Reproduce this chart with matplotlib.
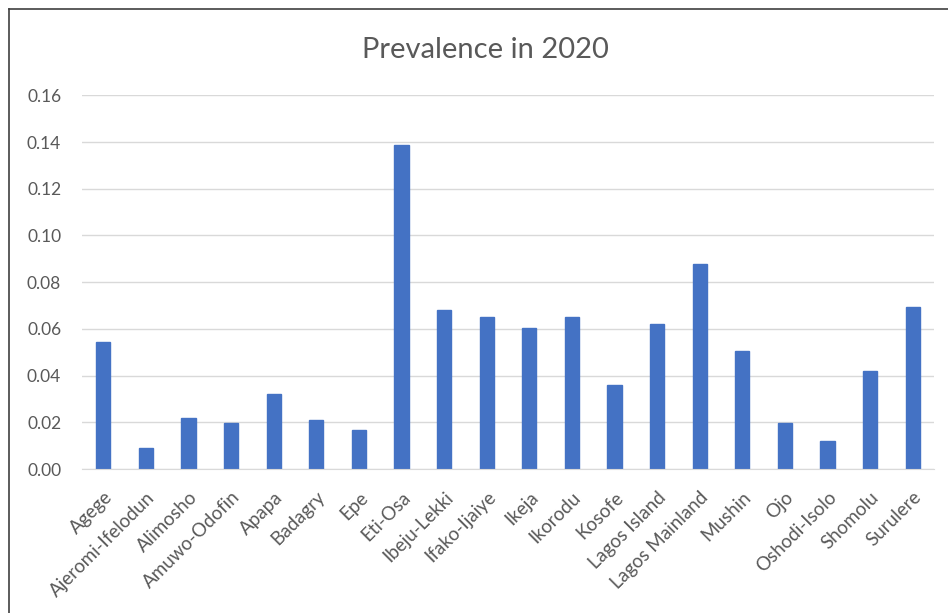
import matplotlib.pyplot as plt
from matplotlib.lines import Line2D

areas = ['Agege', 'Ajeromi-Ifelodun', 'Alimosho', 'Amuwo-Odofin', 'Apapa', 'Badagry',
         'Epe', 'Eti-Osa', 'Ibeju-Lekki', 'Ifako-Ijaiye', 'Ikeja', 'Ikorodu', 'Kosofe',
         'Lagos Island', 'Lagos Mainland', 'Mushin', 'Ojo', 'Oshodi-Isolo', 'Shomolu',
         'Surulere']
prevalence = [0.0542, 0.0089, 0.0217, 0.0198, 0.0321, 0.0208, 0.0166, 0.1388, 0.0681,
              0.0652, 0.0605, 0.0652, 0.0360, 0.0619, 0.0879, 0.0505, 0.0198, 0.0119,
              0.0420, 0.0694]
yticks = [0.00, 0.02, 0.04, 0.06, 0.08, 0.10, 0.12, 0.14, 0.16]

plt.rcParams['font.family'] = ['Lato', 'DejaVu Sans']
txt = '#595959'

fig = plt.figure(figsize=(9.48, 6.13), dpi=100)
ax = fig.add_axes([0.0865, 0.2349, 0.8987, 0.6096])

x = range(len(areas))
ax.bar(x, prevalence, width=0.33, color='#4472c4', edgecolor='#4472c4', zorder=3)

ax.set_xlim(-0.5, len(areas) - 0.5)
ax.set_ylim(0, 0.16)
ax.set_yticks(yticks)
ax.set_yticklabels(['%.2f' % v for v in yticks], color=txt, fontsize=12.5)
ax.set_xticks(list(x))
ax.set_xticklabels(areas, rotation=45, ha='right', rotation_mode='anchor',
                   color=txt, fontsize=13.5)
ax.tick_params(axis='both', length=0)
ax.tick_params(axis='y', pad=15)
ax.tick_params(axis='x', pad=14)

ax.grid(axis='y', color='#d9d9d9', linewidth=1, zorder=0)
for s in ['top', 'right', 'left']:
    ax.spines[s].set_visible(False)
ax.spines['bottom'].set_color('#d9d9d9')
ax.spines['bottom'].set_zorder(4)

fig.text(0.512, 0.918, 'Prevalence in 2020', ha='center', va='center',
         fontsize=21, color=txt)

# outer chart border along left and top edges
fig.add_artist(Line2D([9 / 948, 9 / 948], [0, 1 - 9 / 613], color='#404040', linewidth=1.2))
fig.add_artist(Line2D([9 / 948, 1], [1 - 9 / 613, 1 - 9 / 613], color='#404040', linewidth=1.2))

plt.savefig('out.png', dpi=100)
plt.close()
